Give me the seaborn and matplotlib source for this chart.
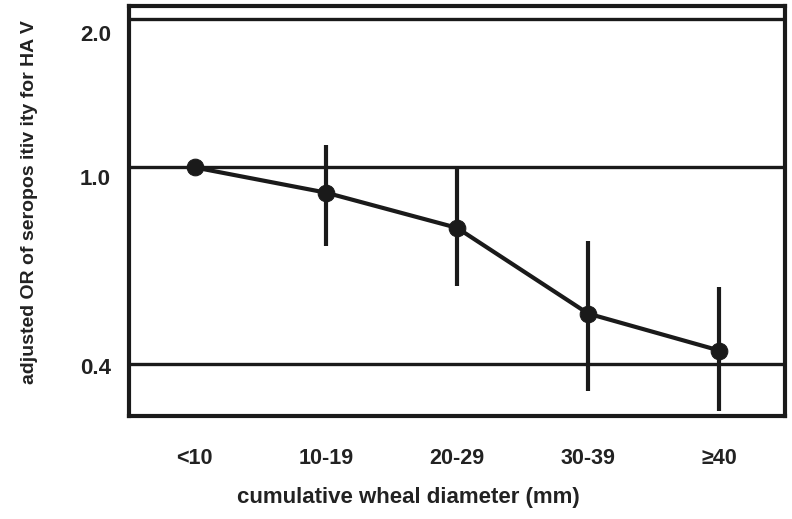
import matplotlib
matplotlib.use("Agg")
import matplotlib.pyplot as plt
import matplotlib.transforms as mtransforms
from matplotlib.ticker import NullLocator, FixedLocator, NullFormatter
import seaborn as sns
import pandas as pd

categories = ["<10", "10-19", "20-29", "30-39", "\u226540"]
odds_ratio = [1.0, 0.889, 0.754, 0.505, 0.425]
ci_lower = [1.0, 0.694, 0.575, 0.352, 0.321]
ci_upper = [1.0, 1.108, 1.0, 0.708, 0.573]
ref_lines = [0.4, 1.0, 2.0]
ytick_values = [0.4, 1.0, 2.0]
ytick_labels = ["0.4", "1.0", "2.0"]

sns.set_theme(style="white")
plt.rcParams["font.family"] = ["Liberation Sans", "DejaVu Sans"]

fig = plt.figure(figsize=(7.92, 5.19), dpi=100)
ax = fig.add_axes([129 / 792, 1 - 416 / 519, (785 - 129) / 792, (416 - 6) / 519])

df = pd.DataFrame({"pos": range(len(categories)), "or": odds_ratio})

for v in ref_lines:
    ax.axhline(v, color="#1a1a1a", lw=2.4, zorder=1)

ax.vlines(df["pos"], ci_lower, ci_upper, color="#1a1a1a", lw=3, zorder=2)
sns.lineplot(data=df, x="pos", y="or", ax=ax, color="#1a1a1a", lw=3,
             marker="o", markersize=12, markeredgecolor="#1a1a1a", zorder=3)

ax.set_yscale("log")
ax.set_ylim(0.313, 2.126)
ax.set_xlim(-0.5, 4.5)
ax.yaxis.set_major_locator(FixedLocator(ytick_values))
ax.yaxis.set_minor_locator(NullLocator())
ax.yaxis.set_minor_formatter(NullFormatter())
ax.set_yticklabels(ytick_labels, fontsize=16, fontweight="bold", color="#222222")
ax.set_xticks(df["pos"])
ax.set_xticklabels(categories, fontsize=15.5, fontweight="bold", color="#222222")
ax.tick_params(axis="both", length=0)
ax.tick_params(axis="y", pad=13)
ax.tick_params(axis="x", pad=23)

offsets = [2, 10, 14]
for lab, off in zip(ax.get_yticklabels(), offsets):
    lab.set_transform(lab.get_transform() + mtransforms.ScaledTranslation(0, -off / 100, fig.dpi_scale_trans))

for s in ax.spines.values():
    s.set_visible(True)
    s.set_color("#1a1a1a")
    s.set_linewidth(3)

ax.set_xlabel("cumulative wheal diameter (mm)", fontsize=16, fontweight="bold", color="#222222")
ax.xaxis.set_label_coords((408 - 129) / 656, (416 - 487) / 410)
ax.set_ylabel("adjusted OR of seropos itiv ity for HA V", fontsize=14, fontweight="bold", color="#222222")
ax.yaxis.set_label_coords((38 - 129) / 656, (416 - 202) / 410)

fig.savefig("out.png", dpi=100, facecolor="white")
